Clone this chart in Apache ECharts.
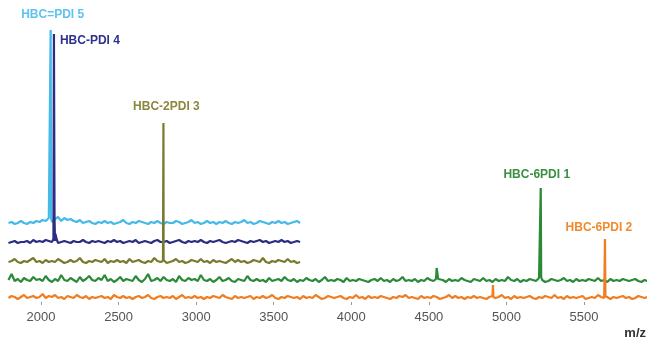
<!DOCTYPE html>
<html>
<head>
<meta charset="utf-8">
<script src="https://cdn.jsdelivr.net/npm/echarts@6/dist/echarts.min.js"></script>
<style>html,body{margin:0;padding:0;background:#fff;}#c{width:647px;height:342px;}</style>
</head>
<body>
<div id="c"></div>
<script>
// ---- data (arbitrary intensity units) ----
const seriesNames = ['HBC=PDI 5', 'HBC-PDI 4', 'HBC-2PDI 3', 'HBC-6PDI 1', 'HBC-6PDI 2'];
const tickLabels = [2000, 2500, 3000, 3500, 4000, 4500, 5000, 5500];
const noiseStart = 1790;
const noiseStep = 20;

const lbNoise = [1,2,0,1,3,1,0,2,1,3, 2,4,3,6,2,5,7,3,6,4, 5,3,2,4,1,2,3,1,0,2, 1,3,1,2,0,1,2,4,1,0, 2,1,3,2,1,0,2,1,3,1, 0,2,1,1,3,2,0,1,2,4, 1,2,0,1,3,1,2,0,2,1, 3,1,0,2,1,2,4,1,2,0, 1,3,2,1,0,2,1,3,1,2, 0,1,2,3,1];
const dbNoise = [0,1,2,0,1,1,2,0,3,1, 2,1,3,2,1,2,0,1,2,1, 0,2,1,1,3,1,0,2,1,2, 1,0,2,1,3,1,2,0,1,2, 1,3,0,1,2,1,0,2,3,1, 1,2,0,1,2,3,1,0,2,1, 2,1,3,1,0,2,1,2,3,1, 0,1,2,1,3,2,1,0,2,1, 2,3,1,2,0,1,2,1,3,1, 2,0,1,2,1];
const olNoise = [1,2,4,1,0,2,1,3,5,1, 2,0,3,1,2,1,4,2,0,1, 3,1,2,5,1,0,2,1,3,2, 1,4,0,2,1,3,1,2,0,4, 1,2,3,1,0,2,1,5,2,1, 3,0,1,2,4,1,2,0,1,3, 2,1,4,1,2,0,3,1,2,1, 0,2,4,1,3,1,2,0,1,3, 2,1,5,1,0,2,1,3,2,1, 4,1,2,0,1];
const grNoise = [2,8,1,3,0,4,2,1,5,2, 3,1,6,2,0,3,1,7,2,1, 4,2,0,5,1,3,6,2,1,4, 2,7,1,3,0,2,5,1,3,2, 1,6,2,0,3,8,1,2,4,1, 5,2,1,3,0,6,2,1,4,2, 3,1,7,2,1,3,0,2,5,1, 2,4,1,0,3,2,1,6,2,1, 3,1,2,0,4,1,2,3,1,5, 2,1,3,0,2,1,4,2,1,3, 0,2,5,1,2,1,3,2,0,4, 1,2,1,3,2,1,0,2,3,1, 4,1,2,0,3,1,2,5,1,2, 1,3,0,2,1,4,2,1,3,1, 2,0,3,1,2,1,4,2,1,0, 3,2,1,4,1,2,0,3,1,2, 1,5,2,1,3,0,2,1,3,2, 1,4,2,0,1,3,2,1,2,4, 1,2,0,3,1,2,1,3,2,1, 4,1,2,0,3,1,2,1,3,2, 1,2,3,1,0,2,1];
const orNoise = [1,3,2,0,2,4,1,2,3,1, 2,5,1,3,2,4,1,2,0,3, 2,1,4,2,1,3,0,2,1,2, 3,1,2,0,4,2,1,3,1,2, 0,2,3,1,2,4,1,0,2,3, 1,2,1,3,0,2,4,1,2,1, 3,1,2,0,2,1,3,2,1,4, 2,1,0,3,1,2,1,2,3,0, 2,1,3,1,2,4,1,0,2,1, 3,2,1,2,0,3,1,2,1,4, 2,0,1,3,2,1,2,3,1,0, 2,1,4,1,2,0,3,1,2,1, 3,2,1,0,2,1,3,2,4,1, 2,1,0,3,1,2,1,3,2,0, 1,2,4,1,3,1,2,0,2,1, 3,1,2,1,0,2,3,1,2,4, 1,2,0,3,1,2,1,2,3,1, 0,2,1,3,2,1,4,1,2,0, 3,1,2,1,2,3,0,1,2,1, 4,2,1,3,0,2,1,2,3,1, 2,0,1,3,2,1,2];

const lbPeak = [[2059,6],[2062,194],[2065,6]];
const dbPeak = [[2080,4],[2083,209],[2087,24],[2093,9],[2100,4]];
const olPeak = [[2786,2],[2789,140],[2792,2]];
const grPeak = [[4546,3],[4550,14],[4556,13],[4560,3],[5218,4],[5221,94],[5224,5]];
const orPeak = [[4910,2],[4913,14],[4916,2],[5632,3],[5635,60],[5638,3]];

// main labelled peaks [m/z, intensity]
const labelPeaks = [[2062,194],[2083,209],[2789,140],[5221,94],[5635,60]];

// ---- build ----
function build(noise, peaks) {
  const pts = noise.map((v, i) => [noiseStart + i * noiseStep, v]);
  return pts.concat(peaks).sort((a, b) => a[0] - b[0]);
}
const allData = [build(lbNoise, lbPeak), build(dbNoise, dbPeak), build(olNoise, olPeak), build(grNoise, grPeak), build(orNoise, orPeak)];

const colors = ['#45b9e8', '#2b2d84', '#7b7a2c', '#2b8a37', '#f07d20'];
const labelColors = ['#5ec3ee', '#2e3190', '#8a883c', '#3a8f40', '#f08a2e'];
const axisMins = [-78, -59, -39, -20, -3];
const labelOffsets = [[2,-15],[36,7],[3,-16],[-4,-13],[-6,-11]];

const chart = echarts.init(document.getElementById('c'), null, {renderer: 'canvas'});
const option = {
  animation: false,
  backgroundColor: '#fff',
  grid: {left: 8, right: 0, top: 0, bottom: 40, containLabel: false},
  xAxis: {
    type: 'value', min: 1787, max: 5906,
    axisLine: {show: false, onZero: false},
    axisTick: {show: true, length: 3, lineStyle: {color: '#999'}, customValues: tickLabels},
    axisLabel: {customValues: tickLabels, formatter: v => String(v), color: '#555', fontSize: 13, fontFamily: 'Liberation Sans, Arial, sans-serif', margin: 9},
    splitLine: {show: false}
  },
  yAxis: axisMins.map(m => ({type: 'value', min: m, max: m + 302, show: false, splitLine: {show: false}})),
  graphic: [{type: 'text', right: 1, top: 327, style: {text: 'm/z', fill: '#333', font: 'bold 13px Liberation Sans, Arial, sans-serif'}}],
  series: allData.map((d, k) => ({
    type: 'line', name: seriesNames[k], yAxisIndex: k, data: d,
    symbol: 'none', showSymbol: false, silent: true,
    lineStyle: {color: colors[k], width: 2.2},
    itemStyle: {color: colors[k]},
    z: 2 + k,
    markPoint: {
      silent: true, symbol: 'circle', symbolSize: 1, itemStyle: {color: 'rgba(0,0,0,0)'},
      data: [{coord: labelPeaks[k], name: seriesNames[k]}],
      label: {show: true, position: 'inside', offset: labelOffsets[k], formatter: '{b}', color: labelColors[k], fontSize: 12, fontWeight: 'bold', fontFamily: 'Liberation Sans, Arial, sans-serif'}
    }
  }))
};
chart.setOption(option);
</script>
</body>
</html>
